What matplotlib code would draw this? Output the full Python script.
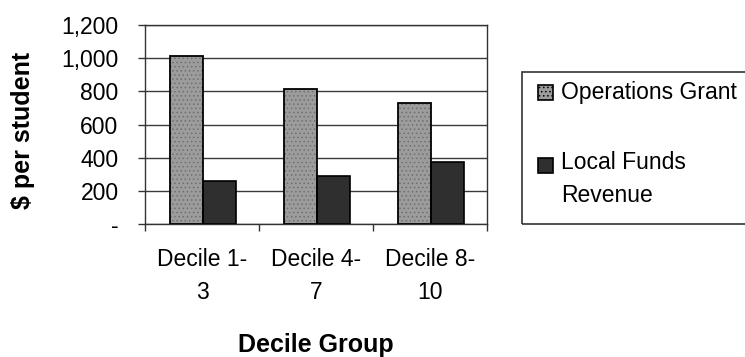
import matplotlib
matplotlib.use("Agg")
import matplotlib.pyplot as plt
from matplotlib.patches import Rectangle
import numpy as np

plt.rcParams['font.family'] = ['Liberation Sans', 'DejaVu Sans']
plt.rcParams['hatch.linewidth'] = 0.6

# Data
groups = ["Decile 1-\n3", "Decile 4-\n7", "Decile 8-\n10"]
operations_grant = [1015, 812, 728]
local_funds = [261, 291, 376]
series_names = ["Operations Grant", "Local Funds\nRevenue"]
y_ticks = [0, 200, 400, 600, 800, 1000, 1200]
y_tick_labels = ["-", "200", "400", "600", "800", "1,000", "1,200"]

GRAY = "#9c9c9c"
DARK = "#2f2f2f"
W, H = 745, 357

fig = plt.figure(figsize=(W / 100, H / 100), dpi=100)
fig.patch.set_facecolor("white")
ax = fig.add_axes([145 / W, 1 - 224 / H, (487 - 145) / W, (224 - 25) / H])

x = np.arange(len(groups))
bw = 0.29
ops_bars = ax.bar(x - 0.14, operations_grant, bw, color=GRAY, edgecolor="#707070",
                  linewidth=0, hatch="....", zorder=3)
ax.bar(x + 0.15, local_funds, bw, color=DARK, edgecolor="black",
       linewidth=1.2, zorder=3)
# solid outline over the stippled bars
for p in ops_bars:
    ax.add_patch(Rectangle(p.get_xy(), p.get_width(), p.get_height(), fill=False,
                           edgecolor="black", linewidth=1.3, zorder=4))

ax.set_xlim(-0.5, len(groups) - 0.5)
ax.set_ylim(0, 1200)
ax.set_yticks(y_ticks)
ax.set_yticklabels(y_tick_labels, fontsize=16.5)
ax.tick_params(axis="y", length=5, width=1, direction="out", color="#333333", pad=14)
ax.set_xticks(x)
ax.set_xticklabels(groups, fontsize=16.5, linespacing=1.55)
ax.set_xticks(np.arange(len(groups) + 1) - 0.5, minor=True)
ax.tick_params(axis="x", which="major", length=0, pad=17)
ax.tick_params(axis="x", which="minor", length=5, width=1, direction="out",
               color="#333333")

ax.yaxis.grid(True, color="#3a3a3a", linewidth=1.0, zorder=0)
ax.set_axisbelow(True)
for s in ax.spines.values():
    s.set_color("#333333")
    s.set_linewidth(1.0)

ax.set_ylabel("$ per student", fontsize=18, fontweight="bold")
ax.yaxis.set_label_coords(-0.358, 0.47)
ax.yaxis.label.set_va("center")
ax.set_xlabel("Decile Group", fontsize=18, fontweight="bold")
ax.xaxis.set_label_coords(0.5, -0.61)
ax.xaxis.label.set_va("center")

# Legend box
fig.patches.append(Rectangle((522 / W, 1 - 224 / H), 260 / W, (224 - 72) / H,
                             transform=fig.transFigure, fill=False,
                             edgecolor="#333333", linewidth=1.2))
legend_rows = [(92, GRAY, "....", series_names[0]), (165, DARK, None, series_names[1])]
sq = 15
for yc, col, hatch, label in legend_rows:
    fig.patches.append(Rectangle((538 / W, 1 - (yc + sq / 2) / H), sq / W, sq / H,
                                 transform=fig.transFigure, facecolor=col,
                                 edgecolor="black", linewidth=1.2, hatch=hatch))
    if "\n" in label:
        fig.text(561 / W, 1 - (yc - 14) / H, label, fontsize=16.5, va="top",
                 ha="left", linespacing=1.55)
    else:
        fig.text(561 / W, 1 - yc / H, label, fontsize=16.5, va="center", ha="left")

fig.savefig("out.png", dpi=100, facecolor="white")
